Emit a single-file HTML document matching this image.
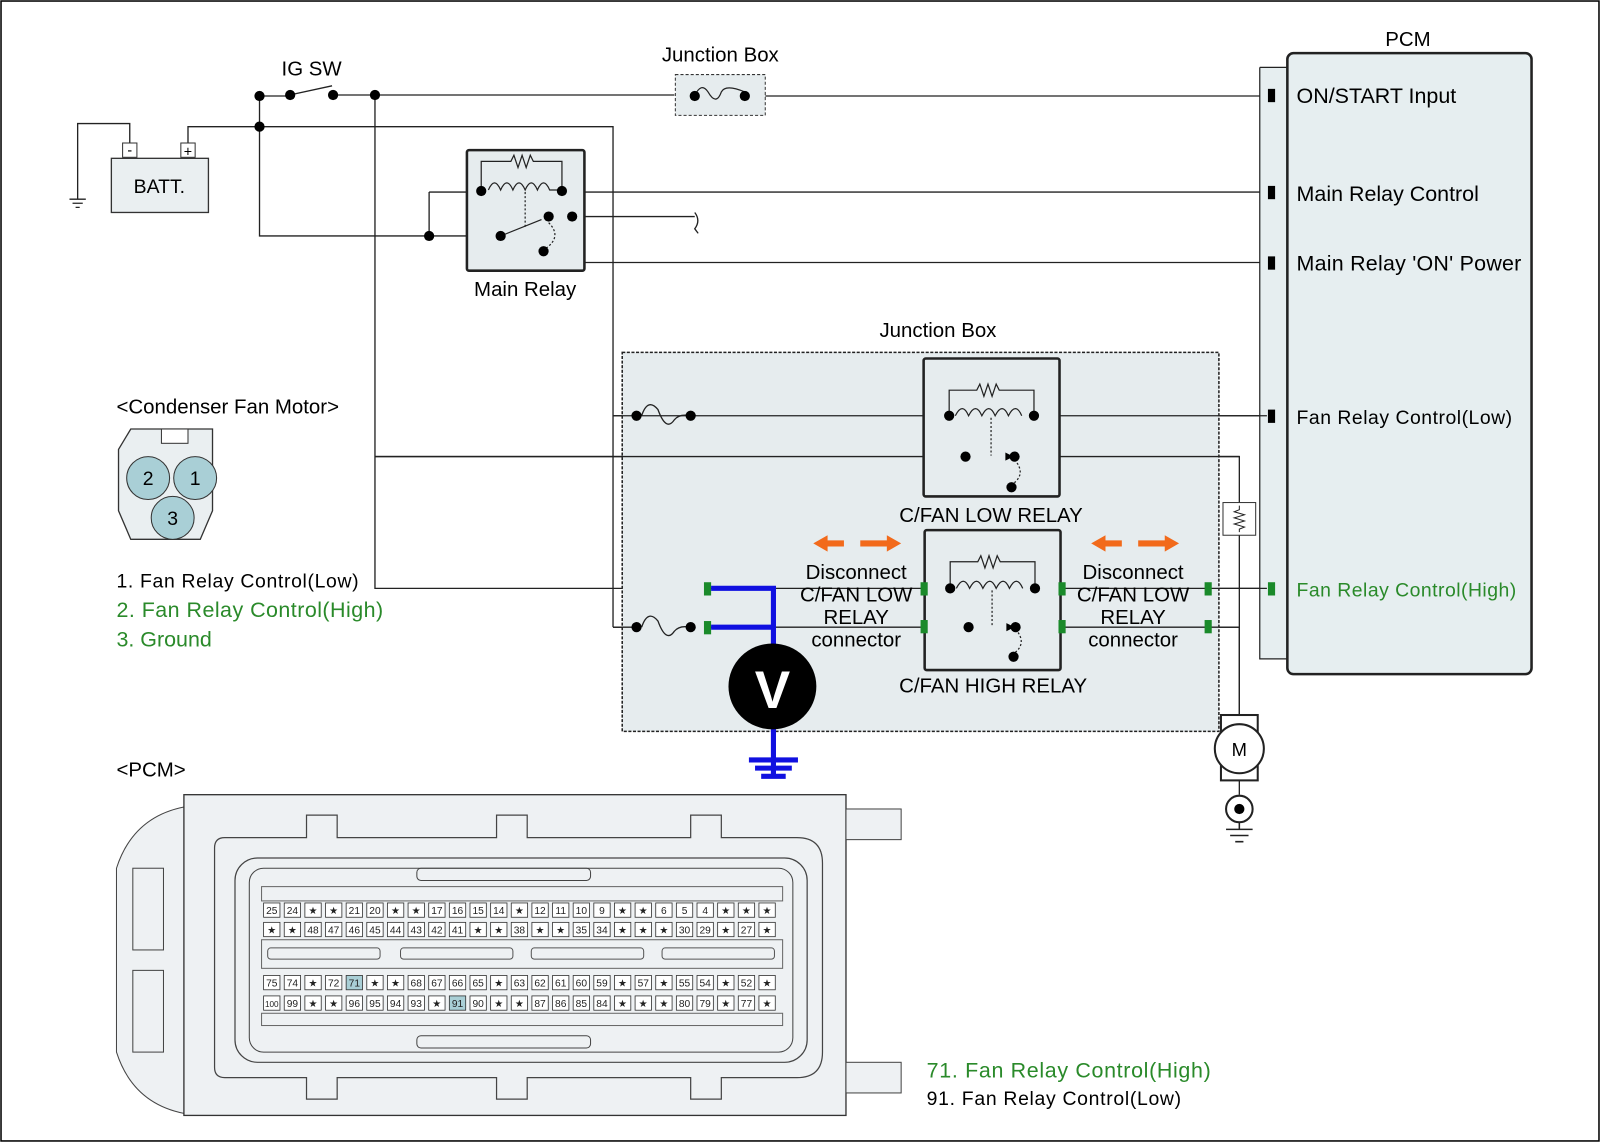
<!DOCTYPE html>
<html><head><meta charset="utf-8"><style>
html,body{margin:0;padding:0;background:#fff}
svg{display:block}
text{font-family:"Liberation Sans",Arial,sans-serif}
.p rect{fill:#fff;stroke:#333;stroke-width:0.8}
.p text{font-size:10px;text-anchor:middle;fill:#222}
</style></head><body>
<svg width="1600" height="1143" viewBox="0 0 1566 1119" preserveAspectRatio="none" xmlns="http://www.w3.org/2000/svg">
<rect x="1" y="1" width="1564" height="1116" fill="#fff" stroke="#000" stroke-width="1.5"/>
<g stroke="#222" stroke-width="1.3" fill="none">
<path d="M127 146 V121 H76 V195"/>
<path d="M68 195 H84 M71 199 H81 M74 203 H78"/>
<path d="M184 146 V124 H600 V614"/>
<path d="M254 94 V231 H420"/>
<path d="M254 94 H284 M288 92 L325 84 M328 93 H660 M748 94 H1240"/>
<path d="M367 93 V576 H693"/>
<path d="M367 447 H1213 V700"/>
<path d="M420 188 V231 H487"/>
<path d="M420 188 H1240"/>
<path d="M560 212 H680 M680 208 q6 8 0 16 q6 8 0 0"/>
<path d="M560 212 V257 H1240"/>
<path d="M600 407 H1240"/>
<path d="M600 614 H620 M1193 614 H1213"/>
<path d="M693 576 H1240"/>
</g>
<rect x="109" y="155" width="95" height="53" fill="#eaeff1" stroke="#333" stroke-width="1.3"/>
<rect x="120" y="140" width="14" height="14" fill="#fff" stroke="#333"/>
<rect x="177" y="140" width="14" height="14" fill="#fff" stroke="#333"/>
<text x="127" y="152" font-size="14" text-anchor="middle">-</text>
<text x="184" y="153" font-size="14" text-anchor="middle">+</text>
<text x="156" y="189" font-size="19" text-anchor="middle">BATT.</text>
<text x="305" y="74" font-size="20" text-anchor="middle">IG SW</text>
<g fill="#000"><circle cx="254" cy="124" r="5"/><circle cx="254" cy="94" r="5"/><circle cx="284" cy="93" r="5"/><circle cx="326" cy="93" r="5"/><circle cx="367" cy="93" r="5"/></g>
<text x="705" y="60" font-size="20" text-anchor="middle">Junction Box</text>
<rect x="661" y="73" width="88" height="40" fill="#e6ecee" stroke="#333" stroke-dasharray="3,2"/>
<path d="M680 94 q6 -14 13 -4 q8 14 13 0 q4 -8 23 0" stroke="#222" fill="none" stroke-width="1.2"/>
<circle cx="680" cy="94" r="5"/><circle cx="729" cy="94" r="5"/>
<rect x="457" y="147" width="115" height="118" fill="#e6ecee" stroke="#222" stroke-width="2.5" rx="2"/>
<g stroke="#222" fill="none" stroke-width="1.2">
<path d="M471 186 V158 H500 l3 -6 l4 12 l4 -12 l4 12 l4 -12 l3 6 H550 V186"/>
<path d="M478 186 q6 -14 12 0 q6 -14 12 0 q6 -14 12 0 q6 -14 12 0 q6 -14 12 0 H550"/>
<path d="M514 188 V222" stroke-dasharray="2,2"/>
<path d="M490 231 L530 215"/>
<path d="M537 218 q14 14 -4 26" stroke-dasharray="2,2"/>
</g>
<g fill="#000"><circle cx="471" cy="187" r="5"/><circle cx="550" cy="187" r="5"/><circle cx="537" cy="212" r="5"/><circle cx="560" cy="212" r="5"/><circle cx="490" cy="231" r="5"/><circle cx="532" cy="246" r="5"/><circle cx="420" cy="231" r="5"/></g>
<text x="514" y="290" font-size="20" text-anchor="middle">Main Relay</text>
<text x="1378" y="45" font-size="20" text-anchor="middle">PCM</text>
<rect x="1233" y="66" width="27" height="579" fill="#e6eef0" stroke="none"/>
<path d="M1233 66 V645 H1260" fill="none" stroke="#222" stroke-width="1.2"/>
<path d="M1233 66 H1260" fill="none" stroke="#222" stroke-width="1.2"/>
<rect x="1260" y="52" width="239" height="608" rx="6" fill="#e6eef0" stroke="#222" stroke-width="2.5"/>
<g fill="#000"><rect x="1241" y="87" width="7" height="13"/><rect x="1241" y="182" width="7" height="13"/><rect x="1241" y="251" width="7" height="13"/><rect x="1241" y="401" width="7" height="13"/></g>
<rect x="1241" y="570" width="7" height="13" fill="#1a8a2a"/>
<text x="1269" y="101" font-size="21">ON/START Input</text>
<text x="1269" y="197" font-size="21">Main Relay Control</text>
<text x="1269" y="265" font-size="21" textLength="220">Main Relay 'ON' Power</text>
<text x="1269" y="415" font-size="19" textLength="211">Fan Relay Control(Low)</text>
<text x="1269" y="584" font-size="19" fill="#2a8a2a" textLength="215">Fan Relay Control(High)</text>
<text x="918" y="330" font-size="20" text-anchor="middle">Junction Box</text>
<rect x="609" y="345" width="584" height="371" fill="#e6ecee" stroke="#222" stroke-width="1.5" stroke-dasharray="3,1.5"/>
<g stroke="#222" stroke-width="1.3" fill="none">
<path d="M600 407 H1240"/>
<path d="M367 447 H1213"/>
<path d="M600 614 H620 M1193 614 H1213 M1213 614 V700"/>
<path d="M693 576 H1240"/>
<path d="M693 614 H1193"/>
<path d="M628 407 q6 -18 16 -6 q8 22 16 10 q5 -6 15 -4"/>
<path d="M628 614 q6 -18 16 -6 q8 22 16 10 q5 -6 15 -4"/>
</g>
<g fill="#000"><circle cx="623" cy="407" r="5"/><circle cx="676" cy="407" r="5"/><circle cx="623" cy="614" r="5"/><circle cx="676" cy="614" r="5"/></g>
<rect x="904" y="351" width="133" height="135" fill="#e6ecee" stroke="#222" stroke-width="2.5" rx="2"/>
<g stroke="#222" fill="none" stroke-width="1.2">
<path d="M929 407 V382 H956 l3 -6 l4 12 l4 -12 l4 12 l4 -12 l3 6 H1012 V407"/>
<path d="M935 407 q7 -14 13 0 q7 -14 13 0 q7 -14 13 0 q7 -14 13 0 q7 -14 13 0"/>
<path d="M970 409 V446" stroke-dasharray="2,2"/>
<path d="M993 450 q12 14 -2 24" stroke-dasharray="2,2"/>
</g>
<path d="M992 447 l-8 -4 v8z" fill="#000"/>
<g fill="#000"><circle cx="929" cy="407" r="5"/><circle cx="1012" cy="407" r="5"/><circle cx="945" cy="447" r="5"/><circle cx="993" cy="447" r="5"/><circle cx="990" cy="477" r="5"/></g>
<text x="970" y="511" font-size="20" text-anchor="middle">C/FAN LOW RELAY</text>
<rect x="905" y="519" width="133" height="137" fill="#e6ecee" stroke="#222" stroke-width="2.5" rx="2"/>
<g stroke="#222" fill="none" stroke-width="1.2">
<path d="M930 576 V550 H957 l3 -6 l4 12 l4 -12 l4 12 l4 -12 l3 6 H1013 V576"/>
<path d="M936 576 q7 -14 13 0 q7 -14 13 0 q7 -14 13 0 q7 -14 13 0 q7 -14 13 0"/>
<path d="M971 578 V612" stroke-dasharray="2,2"/>
<path d="M994 616 q12 14 -2 24" stroke-dasharray="2,2"/>
</g>
<path d="M993 614 l-8 -4 v8z" fill="#000"/>
<g fill="#000"><circle cx="930" cy="576" r="5"/><circle cx="1013" cy="576" r="5"/><circle cx="948" cy="614" r="5"/><circle cx="994" cy="614" r="5"/><circle cx="992" cy="643" r="5"/></g>
<text x="972" y="678" font-size="20" text-anchor="middle">C/FAN HIGH RELAY</text>
<g fill="#1a8a2a"><rect x="689" y="570" width="7" height="13"/><rect x="689" y="608" width="7" height="13"/><rect x="901" y="570" width="7" height="13"/><rect x="901" y="607" width="7" height="13"/><rect x="1036" y="570" width="7" height="13"/><rect x="1036" y="607" width="7" height="13"/><rect x="1179" y="570" width="7" height="13"/><rect x="1179" y="607" width="7" height="13"/></g>
<g fill="#f26a1b">
<path d="M796 532 l14 -8 v5 h16 v6 h-16 v5z"/><path d="M882 532 l-14 -8 v5 h-26 v6 h26 v5z"/>
<path d="M1068 532 l14 -8 v5 h16 v6 h-16 v5z"/><path d="M1154 532 l-14 -8 v5 h-26 v6 h26 v5z"/>
</g>
<g font-size="20" text-anchor="middle">
<text x="838" y="567">Disconnect</text><text x="838" y="589">C/FAN LOW</text><text x="838" y="611">RELAY</text><text x="838" y="633">connector</text>
<text x="1109" y="567">Disconnect</text><text x="1109" y="589">C/FAN LOW</text><text x="1109" y="611">RELAY</text><text x="1109" y="633">connector</text>
</g>
<g stroke="#1010e0" stroke-width="5" fill="none">
<path d="M696 576 H757 V760"/><path d="M696 614 H757"/>
<path d="M733 744 H781 M739 752 H775 M745 760 H769"/>
</g>
<ellipse cx="756" cy="672" rx="43" ry="42" fill="#000"/>
<text x="756" y="693" font-size="52" font-weight="bold" fill="#fff" text-anchor="middle">V</text>
<rect x="1197" y="492" width="32" height="32" fill="#fff" stroke="#333"/>
<path d="M1213 495 v4 l-5 2 l10 3 l-10 3 l10 3 l-10 3 l10 3 l-5 2 v3" stroke="#222" fill="none"/>
<rect x="1195" y="700" width="36" height="64" fill="#fff" stroke="#222" stroke-width="2"/>
<circle cx="1213" cy="733" r="24" fill="#fff" stroke="#222" stroke-width="2"/>
<text x="1213" y="740" font-size="18" text-anchor="middle">M</text>
<path d="M1213 764 V778" stroke="#222" stroke-width="1.3"/>
<circle cx="1213" cy="792" r="13" fill="#fff" stroke="#222" stroke-width="2"/><circle cx="1213" cy="792" r="5" fill="#000"/>
<path d="M1213 805 V812 M1200 812 H1226 M1204 818 H1222 M1209 824 H1217" stroke="#222" stroke-width="1.5"/>
<text x="114" y="405" font-size="20">&lt;Condenser Fan Motor&gt;</text>
<path d="M128 420 H208 V500 l-12 28 H128 l-12 -28 V440z" fill="#eaeff1" stroke="#333" stroke-width="1.3"/>
<rect x="158" y="420" width="26" height="14" fill="#fff" stroke="#333"/>
<circle cx="145" cy="468" r="21" fill="#a9cfd6" stroke="#333"/>
<circle cx="191" cy="468" r="21" fill="#a9cfd6" stroke="#333"/>
<circle cx="169" cy="507" r="21" fill="#a9cfd6" stroke="#333"/>
<text x="145" y="475" font-size="19" text-anchor="middle">2</text>
<text x="191" y="475" font-size="19" text-anchor="middle">1</text>
<text x="169" y="514" font-size="19" text-anchor="middle">3</text>
<text x="114" y="575" font-size="19" textLength="237">1. Fan Relay Control(Low)</text>
<text x="114" y="604" font-size="21" fill="#2a8a2a" textLength="261">2. Fan Relay Control(High)</text>
<text x="114" y="633" font-size="21" fill="#2a8a2a">3. Ground</text>
<text x="114" y="760" font-size="20">&lt;PCM&gt;</text>
<path d="M180 790 q-50 10 -66 60 V1030 q16 50 66 60" fill="#eef1f3" stroke="#444"/>
<rect x="130" y="850" width="30" height="80" fill="#eef1f3" stroke="#444"/>
<rect x="130" y="950" width="30" height="80" fill="#eef1f3" stroke="#444"/>
<rect x="180" y="778" width="648" height="314" fill="#eef1f3" stroke="#333" stroke-width="1.3"/>
<rect x="828" y="792" width="54" height="30" fill="#eef1f3" stroke="#444"/>
<rect x="828" y="1040" width="54" height="30" fill="#eef1f3" stroke="#444"/>
<path d="M210 830 q0 -10 10 -10 H300 V798 H330 V820 H486 V798 H516 V820 H676 V798 H706 V820 H780 q25 0 25 25 V1030 q0 25 -25 25 H706 V1076 H676 V1055 H516 V1076 H486 V1055 H330 V1076 H300 V1055 H220 q-10 0 -10 -10z" fill="#eef1f3" stroke="#444" stroke-width="1.2"/>
<rect x="230" y="840" width="560" height="200" rx="22" fill="#eef1f3" stroke="#444" stroke-width="1.2"/>
<rect x="244" y="850" width="532" height="180" rx="14" fill="#eef1f3" stroke="#444"/>
<rect x="408" y="850" width="170" height="12" rx="4" fill="none" stroke="#444"/>
<rect x="408" y="1014" width="170" height="12" rx="4" fill="none" stroke="#444"/>
<rect x="256" y="868" width="510" height="14" fill="#eef1f3" stroke="#666"/>
<rect x="256" y="920" width="510" height="28" fill="#eef1f3" stroke="#666"/>
<rect x="262" y="928" width="110" height="11" rx="3" fill="none" stroke="#555"/>
<rect x="392" y="928" width="110" height="11" rx="3" fill="none" stroke="#555"/>
<rect x="520" y="928" width="110" height="11" rx="3" fill="none" stroke="#555"/>
<rect x="648" y="928" width="110" height="11" rx="3" fill="none" stroke="#555"/>
<rect x="256" y="992" width="510" height="12" fill="#eef1f3" stroke="#666"/>
<g class="p">
<g transform="translate(0,884)">
<rect x="258" width="16" height="14"/><text x="266" y="11">25</text><rect x="278.2" width="16" height="14"/><text x="286.2" y="11">24</text><rect x="298.4" width="16" height="14"/><text x="306.4" y="11">★</text><rect x="318.6" width="16" height="14"/><text x="326.6" y="11">★</text><rect x="338.8" width="16" height="14"/><text x="346.8" y="11">21</text><rect x="359" width="16" height="14"/><text x="367" y="11">20</text><rect x="379.2" width="16" height="14"/><text x="387.2" y="11">★</text><rect x="399.4" width="16" height="14"/><text x="407.4" y="11">★</text><rect x="419.6" width="16" height="14"/><text x="427.6" y="11">17</text><rect x="439.8" width="16" height="14"/><text x="447.8" y="11">16</text><rect x="460" width="16" height="14"/><text x="468" y="11">15</text><rect x="480.2" width="16" height="14"/><text x="488.2" y="11">14</text><rect x="500.4" width="16" height="14"/><text x="508.4" y="11">★</text><rect x="520.6" width="16" height="14"/><text x="528.6" y="11">12</text><rect x="540.8" width="16" height="14"/><text x="548.8" y="11">11</text><rect x="561" width="16" height="14"/><text x="569" y="11">10</text><rect x="581.2" width="16" height="14"/><text x="589.2" y="11">9</text><rect x="601.4" width="16" height="14"/><text x="609.4" y="11">★</text><rect x="621.6" width="16" height="14"/><text x="629.6" y="11">★</text><rect x="641.8" width="16" height="14"/><text x="649.8" y="11">6</text><rect x="662" width="16" height="14"/><text x="670" y="11">5</text><rect x="682.2" width="16" height="14"/><text x="690.2" y="11">4</text><rect x="702.4" width="16" height="14"/><text x="710.4" y="11">★</text><rect x="722.6" width="16" height="14"/><text x="730.6" y="11">★</text><rect x="742.8" width="16" height="14"/><text x="750.8" y="11">★</text>
</g>
<g transform="translate(0,903)">
<rect x="258" width="16" height="14"/><text x="266" y="11">★</text><rect x="278.2" width="16" height="14"/><text x="286.2" y="11">★</text><rect x="298.4" width="16" height="14"/><text x="306.4" y="11">48</text><rect x="318.6" width="16" height="14"/><text x="326.6" y="11">47</text><rect x="338.8" width="16" height="14"/><text x="346.8" y="11">46</text><rect x="359" width="16" height="14"/><text x="367" y="11">45</text><rect x="379.2" width="16" height="14"/><text x="387.2" y="11">44</text><rect x="399.4" width="16" height="14"/><text x="407.4" y="11">43</text><rect x="419.6" width="16" height="14"/><text x="427.6" y="11">42</text><rect x="439.8" width="16" height="14"/><text x="447.8" y="11">41</text><rect x="460" width="16" height="14"/><text x="468" y="11">★</text><rect x="480.2" width="16" height="14"/><text x="488.2" y="11">★</text><rect x="500.4" width="16" height="14"/><text x="508.4" y="11">38</text><rect x="520.6" width="16" height="14"/><text x="528.6" y="11">★</text><rect x="540.8" width="16" height="14"/><text x="548.8" y="11">★</text><rect x="561" width="16" height="14"/><text x="569" y="11">35</text><rect x="581.2" width="16" height="14"/><text x="589.2" y="11">34</text><rect x="601.4" width="16" height="14"/><text x="609.4" y="11">★</text><rect x="621.6" width="16" height="14"/><text x="629.6" y="11">★</text><rect x="641.8" width="16" height="14"/><text x="649.8" y="11">★</text><rect x="662" width="16" height="14"/><text x="670" y="11">30</text><rect x="682.2" width="16" height="14"/><text x="690.2" y="11">29</text><rect x="702.4" width="16" height="14"/><text x="710.4" y="11">★</text><rect x="722.6" width="16" height="14"/><text x="730.6" y="11">27</text><rect x="742.8" width="16" height="14"/><text x="750.8" y="11">★</text>
</g>
<g transform="translate(0,955)">
<rect x="258" width="16" height="14"/><text x="266" y="11">75</text><rect x="278.2" width="16" height="14"/><text x="286.2" y="11">74</text><rect x="298.4" width="16" height="14"/><text x="306.4" y="11">★</text><rect x="318.6" width="16" height="14"/><text x="326.6" y="11">72</text><rect x="338.8" width="16" height="14" style="fill:#a9cfd6"/><text x="346.8" y="11">71</text><rect x="359" width="16" height="14"/><text x="367" y="11">★</text><rect x="379.2" width="16" height="14"/><text x="387.2" y="11">★</text><rect x="399.4" width="16" height="14"/><text x="407.4" y="11">68</text><rect x="419.6" width="16" height="14"/><text x="427.6" y="11">67</text><rect x="439.8" width="16" height="14"/><text x="447.8" y="11">66</text><rect x="460" width="16" height="14"/><text x="468" y="11">65</text><rect x="480.2" width="16" height="14"/><text x="488.2" y="11">★</text><rect x="500.4" width="16" height="14"/><text x="508.4" y="11">63</text><rect x="520.6" width="16" height="14"/><text x="528.6" y="11">62</text><rect x="540.8" width="16" height="14"/><text x="548.8" y="11">61</text><rect x="561" width="16" height="14"/><text x="569" y="11">60</text><rect x="581.2" width="16" height="14"/><text x="589.2" y="11">59</text><rect x="601.4" width="16" height="14"/><text x="609.4" y="11">★</text><rect x="621.6" width="16" height="14"/><text x="629.6" y="11">57</text><rect x="641.8" width="16" height="14"/><text x="649.8" y="11">★</text><rect x="662" width="16" height="14"/><text x="670" y="11">55</text><rect x="682.2" width="16" height="14"/><text x="690.2" y="11">54</text><rect x="702.4" width="16" height="14"/><text x="710.4" y="11">★</text><rect x="722.6" width="16" height="14"/><text x="730.6" y="11">52</text><rect x="742.8" width="16" height="14"/><text x="750.8" y="11">★</text>
</g>
<g transform="translate(0,975)">
<rect x="258" width="16" height="14"/><text x="266" y="11" style="font-size:8px">100</text><rect x="278.2" width="16" height="14"/><text x="286.2" y="11">99</text><rect x="298.4" width="16" height="14"/><text x="306.4" y="11">★</text><rect x="318.6" width="16" height="14"/><text x="326.6" y="11">★</text><rect x="338.8" width="16" height="14"/><text x="346.8" y="11">96</text><rect x="359" width="16" height="14"/><text x="367" y="11">95</text><rect x="379.2" width="16" height="14"/><text x="387.2" y="11">94</text><rect x="399.4" width="16" height="14"/><text x="407.4" y="11">93</text><rect x="419.6" width="16" height="14"/><text x="427.6" y="11">★</text><rect x="439.8" width="16" height="14" style="fill:#a9cfd6"/><text x="447.8" y="11">91</text><rect x="460" width="16" height="14"/><text x="468" y="11">90</text><rect x="480.2" width="16" height="14"/><text x="488.2" y="11">★</text><rect x="500.4" width="16" height="14"/><text x="508.4" y="11">★</text><rect x="520.6" width="16" height="14"/><text x="528.6" y="11">87</text><rect x="540.8" width="16" height="14"/><text x="548.8" y="11">86</text><rect x="561" width="16" height="14"/><text x="569" y="11">85</text><rect x="581.2" width="16" height="14"/><text x="589.2" y="11">84</text><rect x="601.4" width="16" height="14"/><text x="609.4" y="11">★</text><rect x="621.6" width="16" height="14"/><text x="629.6" y="11">★</text><rect x="641.8" width="16" height="14"/><text x="649.8" y="11">★</text><rect x="662" width="16" height="14"/><text x="670" y="11">80</text><rect x="682.2" width="16" height="14"/><text x="690.2" y="11">79</text><rect x="702.4" width="16" height="14"/><text x="710.4" y="11">★</text><rect x="722.6" width="16" height="14"/><text x="730.6" y="11">77</text><rect x="742.8" width="16" height="14"/><text x="750.8" y="11">★</text>
</g>
</g>
<text x="907" y="1055" font-size="21" fill="#2a8a2a" textLength="278">71. Fan Relay Control(High)</text>
<text x="907" y="1082" font-size="19" textLength="249">91. Fan Relay Control(Low)</text>
</svg>
</body></html>
